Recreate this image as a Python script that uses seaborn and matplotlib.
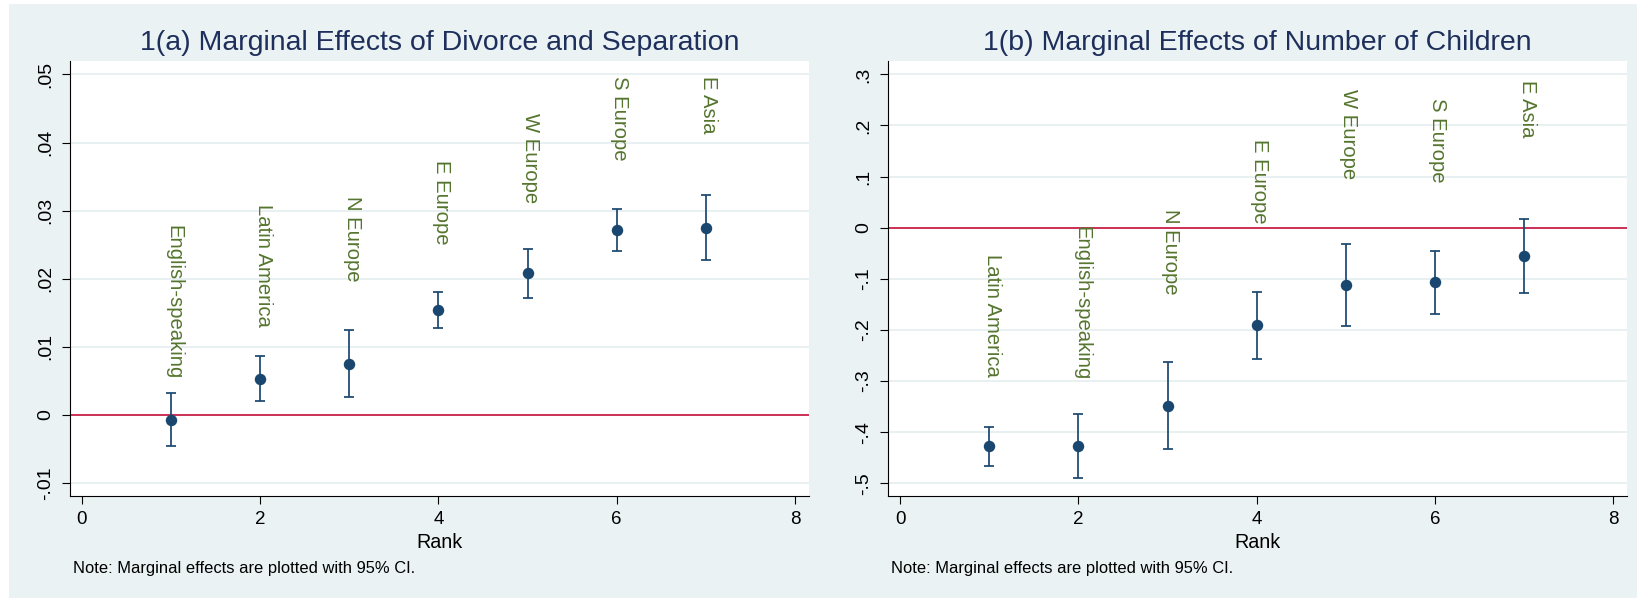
import matplotlib
matplotlib.use("Agg")
import numpy as np
import pandas as pd
import matplotlib.pyplot as plt
import seaborn as sns
from matplotlib.ticker import FuncFormatter, MultipleLocator
from matplotlib.transforms import offset_copy
from matplotlib.patches import Rectangle

# ---- data -------------------------------------------------------------
rank = [1, 2, 3, 4, 5, 6, 7]

div_regions = ["English-speaking", "Latin America", "N Europe", "E Europe",
               "W Europe", "S Europe", "E Asia"]
div_effect = [-0.0007, 0.0053, 0.0075, 0.0154, 0.0208, 0.0272, 0.0275]
div_lower = [-0.0045, 0.0021, 0.0026, 0.0128, 0.0172, 0.0241, 0.0227]
div_upper = [0.0033, 0.0086, 0.0125, 0.0181, 0.0244, 0.0303, 0.0323]
div_label_y = [0.0279, 0.0310, 0.0321, 0.0374, 0.0444, 0.0497, 0.0497]

kid_regions = ["Latin America", "English-speaking", "N Europe", "E Europe",
               "W Europe", "S Europe", "E Asia"]
kid_effect = [-0.428, -0.427, -0.349, -0.191, -0.113, -0.107, -0.055]
kid_lower = [-0.466, -0.489, -0.434, -0.257, -0.193, -0.168, -0.127]
kid_upper = [-0.390, -0.364, -0.263, -0.125, -0.032, -0.046, 0.017]
kid_label_y = [-0.052, 0.004, 0.037, 0.173, 0.272, 0.253, 0.289]

titles = ["1(a) Marginal Effects of Divorce and Separation",
          "1(b) Marginal Effects of Number of Children"]
note = "Note: Marginal effects are plotted with 95% CI."
xlabel = "Rank"

# ---- style ------------------------------------------------------------
sns.set_theme(style="white")
plt.rcParams["font.family"] = ["Liberation Sans", "DejaVu Sans"]

W, H = 1637, 598
BG = "#EAF2F3"
GRID = "#E3ECEE"
NAVY = "#1A476F"
GREEN = "#55752F"
RED = "#C8103A"
TITLE_C = "#1E2F5B"

fig = plt.figure(figsize=(W / 100, H / 100), dpi=100)
fig.patch.set_facecolor("white")
fig.add_artist(Rectangle((9 / W, 0), (W - 9) / W, (H - 4) / H,
                         transform=fig.transFigure, facecolor=BG,
                         edgecolor="none", zorder=-10))


def stata_fmt(v, pos):
    s = "%g" % round(v, 6)
    if s in ("0", "-0"):
        return "0"
    s = s.replace("-0.", "-.")
    if s.startswith("0."):
        s = s[1:]
    return s


def draw_panel(left_px, regions, effect, lower, upper, label_y,
               ylim, ystep, title):
    ax_w, top_px, bot_px = 739.5, 61.0, 495.7
    ax = fig.add_axes([left_px / W, 1 - bot_px / H, ax_w / W,
                       (bot_px - top_px) / H])
    ax.set_facecolor("white")

    df = pd.DataFrame({"rank": rank, "region": regions, "effect": effect,
                       "lower": lower, "upper": upper, "label_y": label_y})

    ax.yaxis.grid(True, color=GRID, lw=1.1)
    ax.set_axisbelow(True)
    ax.axhline(0, color=RED, lw=1.2, zorder=2)

    err = np.vstack([df["effect"] - df["lower"], df["upper"] - df["effect"]])
    ax.errorbar(df["rank"], df["effect"], yerr=err, fmt="none",
                ecolor=NAVY, elinewidth=1.25, capsize=3.8, capthick=1.25,
                zorder=3)
    sns.scatterplot(data=df, x="rank", y="effect", ax=ax, color=NAVY,
                    s=68, linewidth=0, zorder=4, legend=False)

    shift = offset_copy(ax.transData, fig=fig, x=3, y=0, units="dots")
    for _, row in df.iterrows():
        ax.text(row["rank"], row["label_y"], row["region"], rotation=-90,
                ha="center", va="top", color=GREEN, fontsize=14.6,
                transform=shift, zorder=5)

    ax.set_xlim(-0.14, 8.157)
    ax.set_ylim(*ylim)
    ax.xaxis.set_major_locator(MultipleLocator(2))
    ax.yaxis.set_major_locator(MultipleLocator(ystep))
    ax.yaxis.set_major_formatter(FuncFormatter(stata_fmt))
    ax.set_xlabel("")
    ax.set_ylabel("")

    for side in ("top", "right"):
        ax.spines[side].set_visible(False)
    for side in ("left", "bottom"):
        ax.spines[side].set_color("black")
        ax.spines[side].set_linewidth(0.8)

    ax.tick_params(axis="both", which="major", direction="out", length=5.8,
                   width=0.8, color="black", labelcolor="black",
                   bottom=True, left=True)
    ax.tick_params(axis="x", labelsize=13.5, pad=5.5)
    ax.tick_params(axis="y", labelsize=14, pad=5.5, labelrotation=90)
    plt.setp(ax.get_yticklabels(), va="center")

    cx = (left_px + ax_w / 2) / W
    fig.text(cx, 1 - 50.5 / H, title, ha="center", va="baseline",
             fontsize=20.5, color=TITLE_C)
    fig.text(cx, 1 - 548 / H, xlabel, ha="center", va="baseline",
             fontsize=14.2, color="black")
    fig.text((left_px + 3.5) / W, 1 - 573 / H, note, ha="left",
             va="baseline", fontsize=11.9, color="black")
    return ax


draw_panel(69.5, div_regions, div_effect, div_lower, div_upper, div_label_y,
           (-0.01184, 0.05197), 0.01, titles[0])
draw_panel(887.7, kid_regions, kid_effect, kid_lower, kid_upper, kid_label_y,
           (-0.5245, 0.3262), 0.1, titles[1])

fig.savefig("out.png", dpi=100, facecolor=fig.get_facecolor())
